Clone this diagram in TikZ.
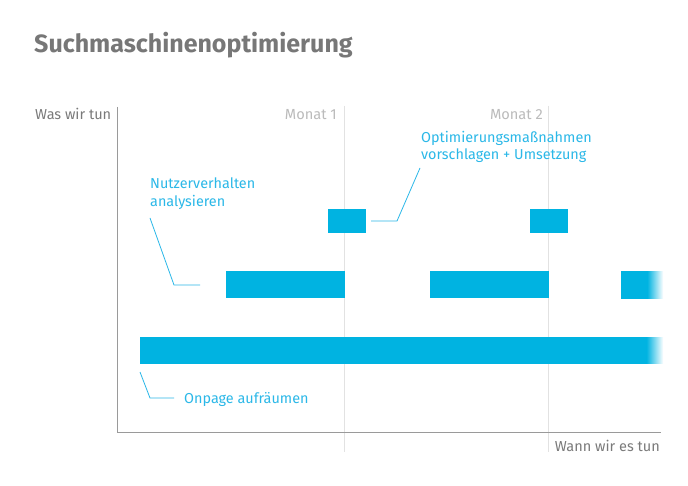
\documentclass[tikz,border=0pt]{standalone}
\usepackage{fontspec}
\setmainfont{Fira Sans}
\definecolor{barc}{HTML}{00B3E1}
\definecolor{labc}{HTML}{2BB8E8}
\definecolor{axisc}{HTML}{9A9A9A}
\definecolor{gridc}{HTML}{E2E2E2}
\definecolor{titlec}{HTML}{777777}
\definecolor{axtext}{HTML}{7A7A7A}
\definecolor{montext}{HTML}{BBBBBB}
\pgfdeclarehorizontalshading{longfade}{100bp}{color(0bp)=(barc); color(73.4bp)=(barc); color(75bp)=(white); color(100bp)=(white)}
\pgfdeclarehorizontalshading{shortfade}{100bp}{color(0bp)=(barc); color(56bp)=(barc); color(75bp)=(white); color(100bp)=(white)}
\tikzset{
  bar/.style={fill=barc, draw=none, inner sep=0pt, minimum height=25pt, anchor=north west},
  lab/.style={text=labc, font=\fontsize{14.4}{17.5}\selectfont, align=left, inner sep=0pt},
  conn/.style={draw=labc, line width=0.8pt},
  axtxt/.style={text=axtext, font=\fontsize{14.5}{16}\selectfont, inner sep=0pt},
  montxt/.style={text=montext, font=\fontsize{14.6}{16}\selectfont, inner sep=0pt},
}
\begin{document}
\begin{tikzpicture}[x=1pt,y=-1pt]
\useasboundingbox[fill=white] (0,0) rectangle (688,486);
% title
\node[anchor=base west, inner sep=0pt, text=titlec, font=\fontsize{25}{28}\selectfont\bfseries] (title) at (34,53) {Suchmaschinenoptimierung};
% grid lines
\draw[gridc, line width=0.8pt] (344,106) -- (344,452);
\draw[gridc, line width=0.8pt] (548,106) -- (548,452);
% axes
\coordinate (o) at (117,432);
\coordinate (ytop) at (117,107);
\coordinate (xend) at (661,432);
\draw[axisc, line width=0.9pt] (ytop) -- (o) -- (xend);
% axis texts
\node[axtxt, anchor=base west] (ylab) at (35,120) {Was wir tun};
\node[axtxt, anchor=base east] (xlab) at (660,451) {Wann wir es tun};
\node[montxt, anchor=base east] (m1) at (337,120) {Monat 1};
\node[montxt, anchor=base east] (m2) at (543,120) {Monat 2};
% bars
\node[bar, minimum width=38pt, minimum height=24pt] (t1) at (328,209) {};
\node[bar, minimum width=38pt, minimum height=24pt] (t2) at (530,209) {};
\node[bar, minimum width=119pt, minimum height=27pt] (m1b) at (226,271) {};
\node[bar, minimum width=119pt, minimum height=27pt] (m2b) at (430,271) {};
\node[bar, fill=none, shading=shortfade, minimum width=42pt, minimum height=27pt] (m3b) at (621,271) {};
\node[bar, fill=none, shading=longfade, minimum width=523pt, minimum height=26pt] (bb) at (140,337) {};
% labels
\node[lab, anchor=north west] (optl) at (421,131) {Optimierungsmaßnahmen\\vorschlagen + Umsetzung};
\node[lab, anchor=north west] (nutl) at (150,178) {Nutzerverhalten\\analysieren};
\node[lab, anchor=base west] (onl) at (184,403) {Onpage aufräumen};
% connectors
\coordinate (c1a) at (371,221);
\coordinate (c1b) at (397,221);
\coordinate (c1c) at (420,168);
\draw[conn] (c1a) -- (c1b) -- (c1c);
\coordinate (c2a) at (150,218);
\coordinate (c2b) at (174,285);
\coordinate (c2c) at (200,285);
\draw[conn] (c2a) -- (c2b) -- (c2c);
\coordinate (c3a) at (140,372);
\coordinate (c3b) at (150,398);
\coordinate (c3c) at (174,398);
\draw[conn] (c3a) -- (c3b) -- (c3c);
\end{tikzpicture}
\end{document}
